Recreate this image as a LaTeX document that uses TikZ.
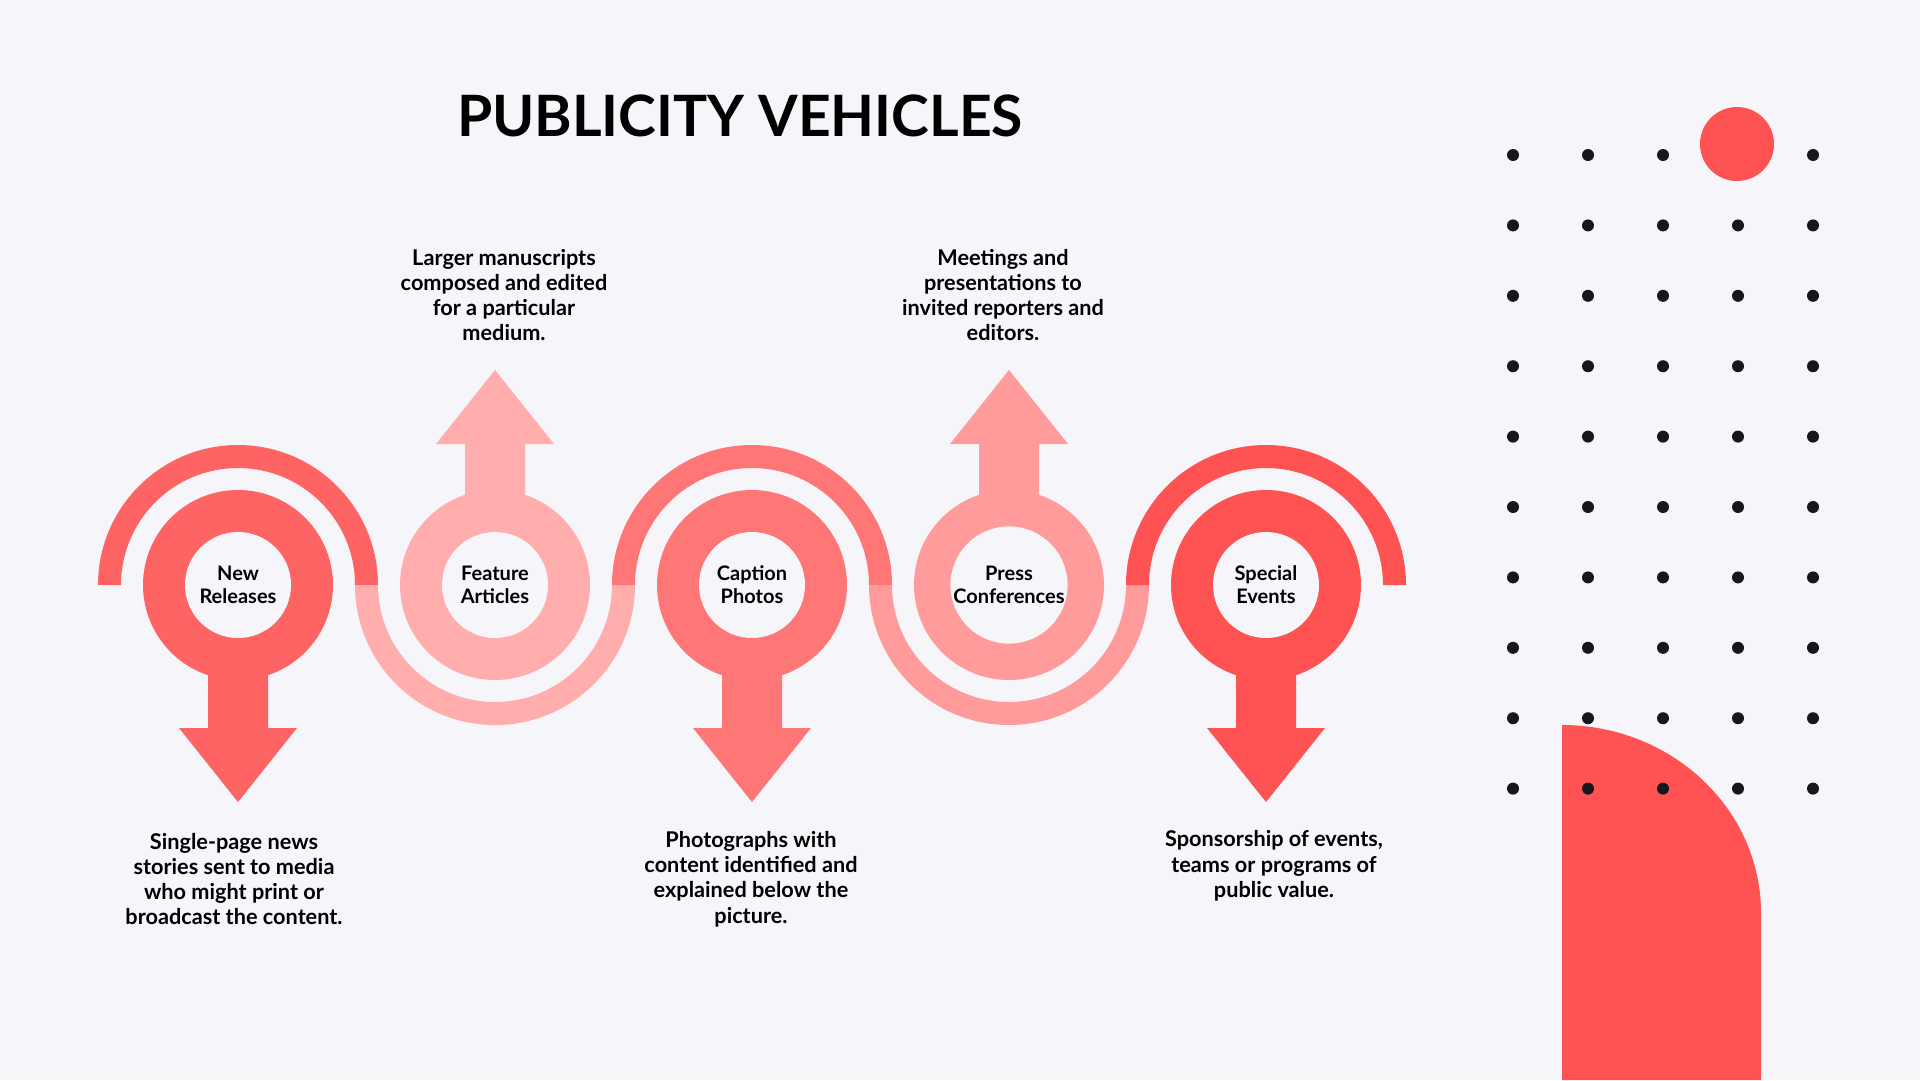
\documentclass[tikz,border=0pt]{standalone}
\usepackage{fontspec}
\setmainfont{Lato}
\definecolor{bg}{HTML}{F6F5FA}
\definecolor{cA}{HTML}{FF6464}
\definecolor{cB}{HTML}{FFADAD}
\definecolor{cC}{HTML}{FF7676}
\definecolor{cD}{HTML}{FF9B9B}
\definecolor{cE}{HTML}{FF5252}
\definecolor{dotc}{HTML}{16161D}
\newcommand{\lblfont}{\fontsize{20}{23}\selectfont\bfseries}
\newcommand{\dscfont}{\fontsize{21.7}{25.3}\selectfont\bfseries}
\tikzset{
  ring/.style={circle, fill=#1, minimum size=190pt, inner sep=0pt},
  hole/.style={circle, fill=bg, minimum size=106pt, inner sep=0pt, align=center, font=\lblfont, text=black},
  desc/.style={align=center, font=\dscfont, inner sep=0pt, text=black},
}
\begin{document}
\begin{tikzpicture}[x=1pt,y=-1pt]
\useasboundingbox (0,0) rectangle (1920,1080);
\fill[bg] (0,0) rectangle (1920,1080);

% title
\node[font=\fontsize{57}{62}\selectfont\bfseries, inner sep=0pt] (title) at (740,116) {PUBLICITY VEHICLES};

% coordinates of the five stages
\coordinate (pA) at (238,585);
\coordinate (pB) at (495,585);
\coordinate (pC) at (752,585);
\coordinate (pD) at (1009,585);
\coordinate (pE) at (1266,585);

% arches
\fill[cA] (pA) ++(-140,0) arc[start angle=180,end angle=360,radius=140] -- ++(-23,0) arc[start angle=360,end angle=180,radius=117] -- cycle;
\fill[cB] (pB) ++(-140,0) arc[start angle=180,end angle=0,radius=140] -- ++(-23,0) arc[start angle=0,end angle=180,radius=117] -- cycle;
\fill[cC] (pC) ++(-140,0) arc[start angle=180,end angle=360,radius=140] -- ++(-23,0) arc[start angle=360,end angle=180,radius=117] -- cycle;
\fill[cD] (pD) ++(-140,0) arc[start angle=180,end angle=0,radius=140] -- ++(-23,0) arc[start angle=0,end angle=180,radius=117] -- cycle;
\fill[cE] (pE) ++(-140,0) arc[start angle=180,end angle=360,radius=140] -- ++(-23,0) arc[start angle=360,end angle=180,radius=117] -- cycle;

% arrows (down for A, C, E; up for B, D)
\fill[cA] (pA) ++(-30,0) -- ++(0,143) -- ++(-29,0) -- ++(59,74) -- ++(59,-74) -- ++(-29,0) -- ++(0,-143) -- cycle;
\fill[cC] (pC) ++(-30,0) -- ++(0,143) -- ++(-29,0) -- ++(59,74) -- ++(59,-74) -- ++(-29,0) -- ++(0,-143) -- cycle;
\fill[cE] (pE) ++(-30,0) -- ++(0,143) -- ++(-29,0) -- ++(59,74) -- ++(59,-74) -- ++(-29,0) -- ++(0,-143) -- cycle;
\fill[cB] (pB) ++(-30,0) -- ++(0,-141) -- ++(-29,0) -- ++(59,-74) -- ++(59,74) -- ++(-29,0) -- ++(0,141) -- cycle;
\fill[cD] (pD) ++(-30,0) -- ++(0,-141) -- ++(-29,0) -- ++(59,-74) -- ++(59,74) -- ++(-29,0) -- ++(0,141) -- cycle;

% rings
\node[ring=cA] (rA) at (pA) {};
\node[ring=cB] (rB) at (pB) {};
\node[ring=cC] (rC) at (pC) {};
\node[ring=cD] (rD) at (pD) {};
\node[ring=cE] (rE) at (pE) {};
\node[hole] (hA) at (pA) {New\\Releases};
\node[hole] (hB) at (pB) {Feature\\Articles};
\node[hole] (hC) at (pC) {Caption\\Photos};
\node[hole] (hD) at (pD) {Press\\Conferences};
\node[hole] (hE) at (pE) {Special\\Events};

% descriptions
\node[desc] (dA) at (234,879) {Single-page news\\stories sent to media\\who might print or\\broadcast the content.};
\node[desc] (dB) at (504,295) {Larger manuscripts\\composed and edited\\for a particular\\medium.};
\node[desc] (dC) at (751,879) {Photographs with\\content identified and\\explained below the\\picture.};
\node[desc] (dD) at (1003,295) {Meetings and\\presentations to\\invited reporters and\\editors.};
\node[desc] (dE) at (1274,866) {Sponsorship of events,\\teams or programs of\\public value.};

% decoration: red shape bottom right
\fill[cE] (1562,1080) -- (1562,725) arc[start angle=270,end angle=360,x radius=199,y radius=188] -- (1761,1080) -- cycle;

% dot grid
\foreach \i in {0,...,9} {
  \foreach \j in {0,...,4} {
    \pgfmathtruncatemacro{\skipit}{(\i==0)&&(\j==3)}
    \ifnum\skipit=0
      \fill[dotc] ({1513+75*\j},{155+70.4*\i}) circle[radius=6];
    \fi
  }
}
\fill[cE] (1737,144) circle[radius=37];
\end{tikzpicture}
\end{document}
